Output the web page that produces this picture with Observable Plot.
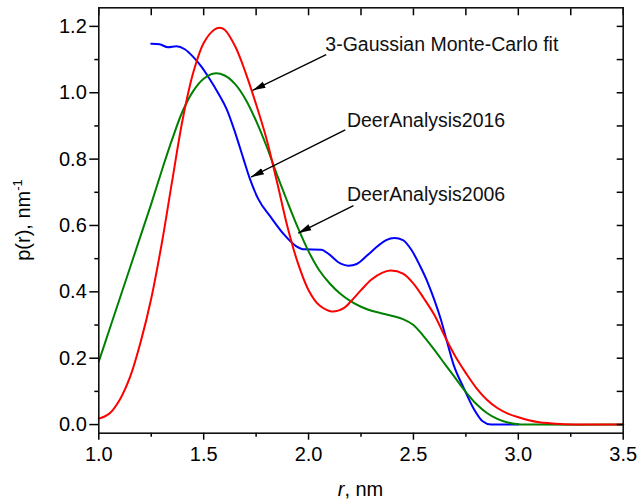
<!DOCTYPE html>
<html>
<head>
<meta charset="utf-8">
<script src="https://cdn.jsdelivr.net/npm/d3@7"></script>
<script src="https://cdn.jsdelivr.net/npm/@observablehq/plot@0.6"></script>
<style>
  html, body { margin: 0; padding: 0; background: #fff; }
  #chart svg { display: block; }
</style>
</head>
<body>
<div id="chart"></div>
<script>
// ---- Data ----
const redR   = [1.00, 1.05, 1.10, 1.15, 1.20, 1.25, 1.30, 1.35, 1.40, 1.45, 1.50, 1.55, 1.575, 1.60, 1.65, 1.70, 1.75, 1.80, 1.85, 1.90, 1.95, 2.00, 2.05, 2.11, 2.17, 2.20, 2.25, 2.30, 2.35, 2.39, 2.45, 2.50, 2.55, 2.60, 2.65, 2.70, 2.75, 2.80, 2.85, 2.90, 2.95, 3.00, 3.05, 3.10, 3.15, 3.20, 3.30, 3.40, 3.50];
const redP   = [0.018, 0.033, 0.075, 0.145, 0.25, 0.38, 0.545, 0.735, 0.92, 1.06, 1.15, 1.19, 1.196, 1.19, 1.14, 1.06, 0.965, 0.86, 0.73, 0.595, 0.485, 0.405, 0.36, 0.341, 0.352, 0.37, 0.405, 0.437, 0.457, 0.464, 0.455, 0.425, 0.38, 0.33, 0.265, 0.205, 0.155, 0.11, 0.075, 0.05, 0.033, 0.022, 0.013, 0.007, 0.004, 0.002, 0.0005, 0, 0];

const greenR = [1.00, 1.05, 1.10, 1.15, 1.20, 1.25, 1.30, 1.35, 1.40, 1.45, 1.50, 1.55, 1.60, 1.65, 1.70, 1.75, 1.80, 1.85, 1.90, 1.95, 2.00, 2.05, 2.10, 2.15, 2.20, 2.25, 2.30, 2.35, 2.40, 2.45, 2.50, 2.55, 2.60, 2.65, 2.70, 2.75, 2.80, 2.85, 2.90, 2.95, 3.00, 3.10, 3.50];
const greenP = [0.19, 0.285, 0.38, 0.475, 0.57, 0.665, 0.765, 0.86, 0.945, 1.005, 1.042, 1.058, 1.052, 1.026, 0.98, 0.915, 0.838, 0.752, 0.67, 0.592, 0.522, 0.466, 0.426, 0.395, 0.372, 0.355, 0.343, 0.335, 0.327, 0.318, 0.300, 0.265, 0.225, 0.182, 0.140, 0.098, 0.062, 0.035, 0.017, 0.006, 0.001, 0, 0];

const blueR  = [1.25, 1.29, 1.33, 1.37, 1.41, 1.45, 1.49, 1.53, 1.57, 1.61, 1.65, 1.69, 1.72, 1.76, 1.82, 1.88, 1.94, 1.98, 2.06, 2.10, 2.14, 2.19, 2.23, 2.28, 2.33, 2.37, 2.41, 2.45, 2.49, 2.53, 2.57, 2.60, 2.63, 2.66, 2.69, 2.74, 2.79, 2.83, 2.87, 2.95, 3.00];
const blueP  = [1.148, 1.146, 1.137, 1.14, 1.131, 1.108, 1.078, 1.04, 0.998, 0.95, 0.88, 0.8, 0.741, 0.68, 0.625, 0.575, 0.538, 0.528, 0.527, 0.512, 0.49, 0.479, 0.484, 0.51, 0.538, 0.556, 0.562, 0.556, 0.527, 0.48, 0.425, 0.375, 0.318, 0.25, 0.183, 0.11, 0.045, 0.01, 0, 0, 0];

// Ticks
const xMajor = [1.0, 1.5, 2.0, 2.5, 3.0, 3.5];
const xMinor = [1.25, 1.75, 2.25, 2.75, 3.25];
const yMajor = [0.0, 0.2, 0.4, 0.6, 0.8, 1.0, 1.2];
const yMinor = [0.1, 0.3, 0.5, 0.7, 0.9, 1.1];

// Annotations
const annText   = ["3-Gaussian Monte-Carlo fit", "DeerAnalysis2016", "DeerAnalysis2006"];
const annTextR  = [2.080, 2.183, 2.183];
const annTextP  = [1.125, 0.896, 0.675];
const arrowFromR = [2.084, 2.175, 2.214];
const arrowFromP = [1.115, 0.888, 0.660];
const arrowToR   = [1.733, 1.726, 1.951];
const arrowToP   = [1.007, 0.746, 0.577];

// ---- Build tables ----
const toRows = (R, P) => R.map((r, i) => ({r, p: P[i]}));
const red = toRows(redR, redP);
const green = toRows(greenR, greenP);
const blue = toRows(blueR, blueP);
const labels = annText.map((t, i) => ({t, r: annTextR[i], p: annTextP[i]}));
const arrows = arrowFromR.map((r1, i) => ({r1, p1: arrowFromP[i], r2: arrowToR[i], p2: arrowToP[i]}));

const fmt = d3.format(".1f");
const blank = () => "";
const FONT = "'Liberation Sans', Arial, Helvetica, sans-serif";

function filledArrow(color, context) {
  const doc = (context && context.document) || document;
  const ns = "http://www.w3.org/2000/svg";
  const m = doc.createElementNS(ns, "marker");
  m.setAttribute("viewBox", "-13 -5 13 10");
  m.setAttribute("markerWidth", "13");
  m.setAttribute("markerHeight", "10");
  m.setAttribute("markerUnits", "userSpaceOnUse");
  m.setAttribute("refX", "0");
  m.setAttribute("refY", "0");
  m.setAttribute("orient", "auto");
  const path = doc.createElementNS(ns, "path");
  path.setAttribute("d", "M0,0L-13,-3.3L-13,3.3Z");
  path.setAttribute("fill", "black");
  path.setAttribute("stroke", "none");
  m.appendChild(path);
  return m;
}

function build(marker) {
  return Plot.plot({
    width: 639,
    height: 502,
    marginLeft: 98.3,
    marginRight: 16.3,
    marginTop: 7.3,
    marginBottom: 69.3,
    style: {fontFamily: FONT, fontSize: "20px", background: "white", color: "black"},
    x: {domain: [1, 3.5]},
    y: {domain: [-0.026, 1.256]},
    marks: [
      // curves
      Plot.line(blue, {x: "r", y: "p", stroke: "#0000ff", strokeWidth: 2, curve: "monotone-x"}),
      Plot.line(green, {x: "r", y: "p", stroke: "#008000", strokeWidth: 2, curve: "catmull-rom"}),
      Plot.line(red, {x: "r", y: "p", stroke: "#ff0000", strokeWidth: 2, curve: "catmull-rom"}),
      // axes: bottom / left (outward ticks)
      Plot.axisX(xMajor, {anchor: "bottom", tickSize: 7, tickPadding: 7, tickFormat: fmt, label: null, strokeWidth: 1.5, fontSize: 20}),
      Plot.axisX(xMinor, {anchor: "bottom", tickSize: 4, tickFormat: blank, label: null, strokeWidth: 1.5}),
      Plot.axisY(yMajor, {anchor: "left", tickSize: 9, tickPadding: 3, tickFormat: fmt, label: null, strokeWidth: 1.5, fontSize: 20}),
      Plot.axisY(yMinor, {anchor: "left", tickSize: 4, tickFormat: blank, label: null, strokeWidth: 1.5}),
      // axes: top / right (inward ticks)
      Plot.axisX(xMajor.concat(xMinor), {anchor: "top", tickSize: -7, tickFormat: blank, label: null, strokeWidth: 1.5}),
      Plot.axisY(yMajor.concat(yMinor), {anchor: "right", tickSize: -7, tickFormat: blank, label: null, strokeWidth: 1.5}),
      Plot.frame({stroke: "#111", strokeWidth: 1.6}),
      // annotations
      Plot.link(arrows, {x1: "r1", y1: "p1", x2: "r2", y2: "p2", stroke: "black", strokeWidth: 1.4, markerEnd: marker}),
      Plot.text(labels, {x: "r", y: "p", text: "t", textAnchor: "start", lineAnchor: "bottom", fontSize: 19.5, fill: "#111"})
    ]
  });
}

let chart;
try {
  chart = build(filledArrow);
} catch (e) {
  chart = build("arrow");
}

// Axis titles with mixed styling (italic r, superscript)
const svg = d3.select(chart);
const xlab = svg.append("text")
  .attr("x", (98.3 + 622.7) / 2)
  .attr("y", 496)
  .attr("text-anchor", "middle")
  .attr("fill", "black")
  .style("font-family", FONT)
  .style("font-size", "20px");
xlab.append("tspan").style("font-style", "italic").text("r");
xlab.append("tspan").text(", nm");

const ylab = svg.append("text")
  .attr("transform", "translate(30,220) rotate(-90)")
  .attr("text-anchor", "middle")
  .attr("fill", "black")
  .style("font-family", FONT)
  .style("font-size", "20px");
ylab.append("tspan").text("p(r), nm");
ylab.append("tspan").attr("dy", "-8").style("font-size", "13px").text("-1");

document.getElementById("chart").appendChild(chart);
</script>
</body>
</html>
